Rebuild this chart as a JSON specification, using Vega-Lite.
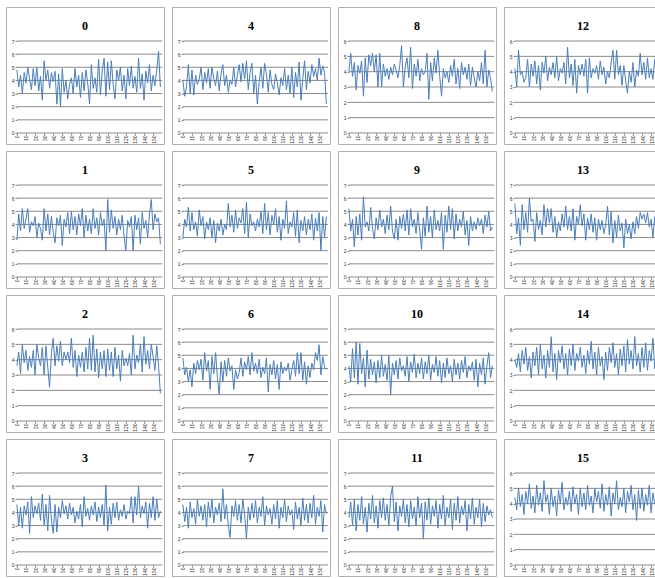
{"$schema":"https://vega.github.io/schema/vega-lite/v6.json","padding":{"left":5,"top":6,"right":0,"bottom":0},"background":"white","columns":4,"spacing":{"row":5,"column":6},
"datasets":{
"g7":[{"v":0},{"v":1},{"v":2},{"v":3},{"v":4},{"v":5},{"v":6},{"v":7}],
"g6":[{"v":0},{"v":1},{"v":2},{"v":3},{"v":4},{"v":5},{"v":6}],
"s0":[{"x":0,"y":4.8},{"x":2,"y":3.5},{"x":4,"y":4.4},{"x":6,"y":3.0},{"x":8,"y":4.6},{"x":10,"y":3.8},{"x":12,"y":5.0},{"x":14,"y":4.1},{"x":16,"y":3.3},{"x":18,"y":4.9},{"x":20,"y":3.6},{"x":22,"y":5.0},{"x":24,"y":3.2},{"x":26,"y":4.3},{"x":28,"y":2.5},{"x":30,"y":5.5},{"x":32,"y":4.0},{"x":34,"y":4.8},{"x":36,"y":3.4},{"x":38,"y":4.6},{"x":40,"y":3.9},{"x":42,"y":4.7},{"x":44,"y":2.2},{"x":46,"y":4.5},{"x":48,"y":2.0},{"x":50,"y":4.9},{"x":52,"y":3.1},{"x":54,"y":4.0},{"x":56,"y":2.6},{"x":58,"y":3.7},{"x":60,"y":4.2},{"x":62,"y":3.0},{"x":64,"y":4.9},{"x":66,"y":3.5},{"x":68,"y":4.4},{"x":70,"y":2.7},{"x":72,"y":4.6},{"x":74,"y":3.2},{"x":76,"y":4.8},{"x":78,"y":3.8},{"x":80,"y":2.2},{"x":82,"y":5.2},{"x":84,"y":3.4},{"x":86,"y":4.2},{"x":88,"y":3.1},{"x":90,"y":5.6},{"x":92,"y":2.9},{"x":94,"y":4.7},{"x":96,"y":5.7},{"x":98,"y":2.8},{"x":100,"y":5.4},{"x":102,"y":3.3},{"x":104,"y":5.5},{"x":106,"y":3.7},{"x":108,"y":2.6},{"x":110,"y":4.8},{"x":112,"y":4.0},{"x":114,"y":5.0},{"x":116,"y":3.2},{"x":118,"y":4.4},{"x":120,"y":2.6},{"x":122,"y":4.9},{"x":124,"y":3.6},{"x":126,"y":5.1},{"x":128,"y":3.4},{"x":130,"y":4.3},{"x":132,"y":3.1},{"x":134,"y":5.7},{"x":136,"y":3.4},{"x":138,"y":4.5},{"x":140,"y":2.5},{"x":142,"y":4.7},{"x":144,"y":3.8},{"x":146,"y":5.2},{"x":148,"y":3.2},{"x":150,"y":4.4},{"x":152,"y":3.6},{"x":154,"y":4.8},{"x":156,"y":6.2},{"x":158,"y":3.5}],
"s4":[{"x":0,"y":4.0},{"x":2,"y":2.8},{"x":4,"y":3.5},{"x":6,"y":5.2},{"x":8,"y":3.0},{"x":10,"y":4.8},{"x":12,"y":2.9},{"x":14,"y":4.4},{"x":16,"y":3.7},{"x":18,"y":4.1},{"x":20,"y":5.0},{"x":22,"y":3.3},{"x":24,"y":4.6},{"x":26,"y":3.8},{"x":28,"y":4.9},{"x":30,"y":3.4},{"x":32,"y":5.0},{"x":34,"y":4.1},{"x":36,"y":3.6},{"x":38,"y":4.7},{"x":40,"y":3.2},{"x":42,"y":4.5},{"x":44,"y":5.2},{"x":46,"y":3.6},{"x":48,"y":4.4},{"x":50,"y":3.1},{"x":52,"y":4.0},{"x":54,"y":3.7},{"x":56,"y":5.0},{"x":58,"y":3.5},{"x":60,"y":4.4},{"x":62,"y":5.2},{"x":64,"y":3.9},{"x":66,"y":5.3},{"x":68,"y":4.1},{"x":70,"y":5.5},{"x":72,"y":3.3},{"x":74,"y":4.6},{"x":76,"y":5.3},{"x":78,"y":3.0},{"x":80,"y":4.4},{"x":82,"y":2.2},{"x":84,"y":3.9},{"x":86,"y":5.0},{"x":88,"y":3.4},{"x":90,"y":5.3},{"x":92,"y":4.5},{"x":94,"y":3.1},{"x":96,"y":4.8},{"x":98,"y":3.7},{"x":100,"y":3.3},{"x":102,"y":4.5},{"x":104,"y":3.8},{"x":106,"y":2.9},{"x":108,"y":4.2},{"x":110,"y":3.6},{"x":112,"y":4.9},{"x":114,"y":3.3},{"x":116,"y":4.4},{"x":118,"y":3.0},{"x":120,"y":5.0},{"x":122,"y":2.7},{"x":124,"y":4.6},{"x":126,"y":3.5},{"x":128,"y":5.4},{"x":130,"y":2.5},{"x":132,"y":4.1},{"x":134,"y":5.5},{"x":136,"y":3.3},{"x":138,"y":4.7},{"x":140,"y":3.8},{"x":142,"y":5.2},{"x":144,"y":4.3},{"x":146,"y":4.9},{"x":148,"y":4.0},{"x":150,"y":5.7},{"x":152,"y":4.4},{"x":154,"y":5.1},{"x":156,"y":4.6},{"x":158,"y":2.2}],
"s8":[{"x":0,"y":4.0},{"x":2,"y":5.2},{"x":4,"y":3.7},{"x":6,"y":4.6},{"x":8,"y":2.8},{"x":10,"y":4.4},{"x":12,"y":3.9},{"x":14,"y":4.7},{"x":16,"y":2.4},{"x":18,"y":4.9},{"x":20,"y":3.3},{"x":22,"y":5.1},{"x":24,"y":4.4},{"x":26,"y":5.2},{"x":28,"y":4.0},{"x":30,"y":5.1},{"x":32,"y":3.0},{"x":34,"y":5.2},{"x":36,"y":3.0},{"x":38,"y":4.5},{"x":40,"y":3.7},{"x":42,"y":4.2},{"x":44,"y":3.5},{"x":46,"y":4.3},{"x":48,"y":3.8},{"x":50,"y":4.5},{"x":52,"y":4.1},{"x":54,"y":3.6},{"x":56,"y":4.4},{"x":58,"y":5.7},{"x":60,"y":3.0},{"x":62,"y":4.3},{"x":64,"y":4.9},{"x":66,"y":3.6},{"x":68,"y":5.6},{"x":70,"y":2.9},{"x":72,"y":4.5},{"x":74,"y":3.7},{"x":76,"y":4.8},{"x":78,"y":3.4},{"x":80,"y":4.2},{"x":82,"y":3.8},{"x":84,"y":4.0},{"x":86,"y":5.2},{"x":88,"y":2.2},{"x":90,"y":4.6},{"x":92,"y":3.4},{"x":94,"y":4.9},{"x":96,"y":3.9},{"x":98,"y":5.4},{"x":100,"y":3.7},{"x":102,"y":2.4},{"x":104,"y":4.2},{"x":106,"y":3.6},{"x":108,"y":4.0},{"x":110,"y":3.3},{"x":112,"y":4.4},{"x":114,"y":3.7},{"x":116,"y":4.8},{"x":118,"y":3.2},{"x":120,"y":4.2},{"x":122,"y":2.9},{"x":124,"y":4.6},{"x":126,"y":3.8},{"x":128,"y":4.3},{"x":130,"y":3.5},{"x":132,"y":4.5},{"x":134,"y":3.1},{"x":136,"y":4.3},{"x":138,"y":3.6},{"x":140,"y":3.0},{"x":142,"y":4.0},{"x":144,"y":3.4},{"x":146,"y":4.6},{"x":148,"y":3.2},{"x":150,"y":5.4},{"x":152,"y":3.0},{"x":154,"y":4.1},{"x":156,"y":3.6},{"x":158,"y":2.7}],
"s12":[{"x":0,"y":4.2},{"x":2,"y":3.0},{"x":4,"y":5.4},{"x":6,"y":3.8},{"x":8,"y":4.0},{"x":10,"y":3.3},{"x":12,"y":3.6},{"x":14,"y":4.8},{"x":16,"y":3.0},{"x":18,"y":4.5},{"x":20,"y":3.7},{"x":22,"y":4.7},{"x":24,"y":3.2},{"x":26,"y":4.4},{"x":28,"y":2.8},{"x":30,"y":4.6},{"x":32,"y":3.9},{"x":34,"y":5.0},{"x":36,"y":3.4},{"x":38,"y":4.3},{"x":40,"y":3.8},{"x":42,"y":4.6},{"x":44,"y":3.6},{"x":46,"y":5.0},{"x":48,"y":3.4},{"x":50,"y":4.2},{"x":52,"y":3.9},{"x":54,"y":4.6},{"x":56,"y":3.2},{"x":58,"y":5.6},{"x":60,"y":3.6},{"x":62,"y":4.5},{"x":64,"y":3.1},{"x":66,"y":4.8},{"x":68,"y":2.6},{"x":70,"y":4.4},{"x":72,"y":3.8},{"x":74,"y":4.5},{"x":76,"y":3.7},{"x":78,"y":4.8},{"x":80,"y":2.6},{"x":82,"y":4.9},{"x":84,"y":3.6},{"x":86,"y":4.2},{"x":88,"y":3.9},{"x":90,"y":4.4},{"x":92,"y":3.5},{"x":94,"y":4.7},{"x":96,"y":3.8},{"x":98,"y":4.3},{"x":100,"y":3.2},{"x":102,"y":4.0},{"x":104,"y":3.6},{"x":106,"y":4.6},{"x":108,"y":5.4},{"x":110,"y":3.5},{"x":112,"y":5.4},{"x":114,"y":3.8},{"x":116,"y":4.4},{"x":118,"y":3.1},{"x":120,"y":4.4},{"x":122,"y":3.4},{"x":124,"y":2.6},{"x":126,"y":4.0},{"x":128,"y":3.3},{"x":130,"y":4.6},{"x":132,"y":3.0},{"x":134,"y":4.1},{"x":136,"y":3.7},{"x":138,"y":5.2},{"x":140,"y":3.8},{"x":142,"y":4.6},{"x":144,"y":3.5},{"x":146,"y":4.9},{"x":148,"y":3.6},{"x":150,"y":4.2},{"x":152,"y":3.5},{"x":154,"y":4.8},{"x":156,"y":3.6},{"x":158,"y":4.3}],
"s1":[{"x":0,"y":2.8},{"x":2,"y":4.8},{"x":4,"y":3.5},{"x":6,"y":5.2},{"x":8,"y":3.7},{"x":10,"y":4.4},{"x":12,"y":5.2},{"x":14,"y":3.4},{"x":16,"y":4.2},{"x":18,"y":3.9},{"x":20,"y":4.6},{"x":22,"y":3.0},{"x":24,"y":4.1},{"x":26,"y":3.7},{"x":28,"y":2.8},{"x":30,"y":5.2},{"x":32,"y":3.5},{"x":34,"y":4.8},{"x":36,"y":3.2},{"x":38,"y":4.6},{"x":40,"y":3.4},{"x":42,"y":2.6},{"x":44,"y":4.5},{"x":46,"y":3.9},{"x":48,"y":4.7},{"x":50,"y":2.4},{"x":52,"y":4.4},{"x":54,"y":3.8},{"x":56,"y":4.9},{"x":58,"y":3.3},{"x":60,"y":5.0},{"x":62,"y":3.6},{"x":64,"y":4.6},{"x":66,"y":3.2},{"x":68,"y":4.8},{"x":70,"y":3.9},{"x":72,"y":5.2},{"x":74,"y":3.0},{"x":76,"y":4.7},{"x":78,"y":3.5},{"x":80,"y":4.4},{"x":82,"y":3.3},{"x":84,"y":5.2},{"x":86,"y":3.7},{"x":88,"y":4.5},{"x":90,"y":3.2},{"x":92,"y":4.9},{"x":94,"y":3.9},{"x":96,"y":4.4},{"x":98,"y":2.0},{"x":100,"y":5.9},{"x":102,"y":3.4},{"x":104,"y":5.1},{"x":106,"y":3.7},{"x":108,"y":4.6},{"x":110,"y":3.2},{"x":112,"y":4.4},{"x":114,"y":3.6},{"x":116,"y":4.7},{"x":118,"y":3.1},{"x":120,"y":2.0},{"x":122,"y":4.3},{"x":124,"y":3.8},{"x":126,"y":4.6},{"x":128,"y":2.0},{"x":130,"y":4.7},{"x":132,"y":3.6},{"x":134,"y":4.5},{"x":136,"y":2.5},{"x":138,"y":4.9},{"x":140,"y":3.7},{"x":142,"y":4.3},{"x":144,"y":3.0},{"x":146,"y":4.8},{"x":148,"y":5.9},{"x":150,"y":3.6},{"x":152,"y":4.8},{"x":154,"y":4.2},{"x":156,"y":4.5},{"x":158,"y":2.5}],
"s5":[{"x":0,"y":3.0},{"x":2,"y":4.4},{"x":4,"y":3.8},{"x":6,"y":5.3},{"x":8,"y":3.5},{"x":10,"y":4.9},{"x":12,"y":3.6},{"x":14,"y":4.2},{"x":16,"y":3.1},{"x":18,"y":5.1},{"x":20,"y":3.9},{"x":22,"y":4.6},{"x":24,"y":2.9},{"x":26,"y":4.2},{"x":28,"y":3.6},{"x":30,"y":4.5},{"x":32,"y":3.0},{"x":34,"y":4.3},{"x":36,"y":2.6},{"x":38,"y":4.1},{"x":40,"y":3.5},{"x":42,"y":4.4},{"x":44,"y":3.2},{"x":46,"y":4.0},{"x":48,"y":3.6},{"x":50,"y":5.6},{"x":52,"y":3.8},{"x":54,"y":4.7},{"x":56,"y":3.4},{"x":58,"y":5.1},{"x":60,"y":3.7},{"x":62,"y":4.5},{"x":64,"y":4.1},{"x":66,"y":5.2},{"x":68,"y":3.3},{"x":70,"y":5.7},{"x":72,"y":3.0},{"x":74,"y":4.8},{"x":76,"y":3.9},{"x":78,"y":4.2},{"x":80,"y":3.5},{"x":82,"y":4.4},{"x":84,"y":3.8},{"x":86,"y":5.0},{"x":88,"y":3.3},{"x":90,"y":5.6},{"x":92,"y":3.6},{"x":94,"y":4.9},{"x":96,"y":3.2},{"x":98,"y":4.7},{"x":100,"y":4.0},{"x":102,"y":5.2},{"x":104,"y":3.4},{"x":106,"y":4.6},{"x":108,"y":2.8},{"x":110,"y":4.4},{"x":112,"y":3.7},{"x":114,"y":5.8},{"x":116,"y":3.3},{"x":118,"y":4.2},{"x":120,"y":3.8},{"x":122,"y":4.9},{"x":124,"y":3.1},{"x":126,"y":5.1},{"x":128,"y":2.6},{"x":130,"y":4.3},{"x":132,"y":3.5},{"x":134,"y":4.6},{"x":136,"y":3.2},{"x":138,"y":4.4},{"x":140,"y":3.6},{"x":142,"y":4.8},{"x":144,"y":2.8},{"x":146,"y":4.5},{"x":148,"y":3.5},{"x":150,"y":4.9},{"x":152,"y":2.0},{"x":154,"y":4.6},{"x":156,"y":3.0},{"x":158,"y":4.6}],
"s9":[{"x":0,"y":5.2},{"x":2,"y":3.5},{"x":4,"y":4.4},{"x":6,"y":2.3},{"x":8,"y":4.6},{"x":10,"y":3.2},{"x":12,"y":4.8},{"x":14,"y":2.8},{"x":16,"y":6.1},{"x":18,"y":3.8},{"x":20,"y":4.2},{"x":22,"y":3.5},{"x":24,"y":5.3},{"x":26,"y":3.7},{"x":28,"y":2.9},{"x":30,"y":4.5},{"x":32,"y":3.6},{"x":34,"y":5.1},{"x":36,"y":3.8},{"x":38,"y":4.4},{"x":40,"y":3.3},{"x":42,"y":4.7},{"x":44,"y":3.6},{"x":46,"y":5.4},{"x":48,"y":3.5},{"x":50,"y":2.9},{"x":52,"y":4.4},{"x":54,"y":2.8},{"x":56,"y":4.6},{"x":58,"y":3.7},{"x":60,"y":4.8},{"x":62,"y":3.5},{"x":64,"y":5.1},{"x":66,"y":3.2},{"x":68,"y":5.2},{"x":70,"y":3.8},{"x":72,"y":4.4},{"x":74,"y":3.3},{"x":76,"y":4.9},{"x":78,"y":3.5},{"x":80,"y":2.1},{"x":82,"y":4.5},{"x":84,"y":3.1},{"x":86,"y":5.4},{"x":88,"y":3.4},{"x":90,"y":4.6},{"x":92,"y":3.0},{"x":94,"y":5.1},{"x":96,"y":3.6},{"x":98,"y":4.3},{"x":100,"y":3.5},{"x":102,"y":4.9},{"x":104,"y":2.1},{"x":106,"y":4.7},{"x":108,"y":3.4},{"x":110,"y":5.4},{"x":112,"y":3.6},{"x":114,"y":5.2},{"x":116,"y":2.9},{"x":118,"y":4.8},{"x":120,"y":3.5},{"x":122,"y":4.4},{"x":124,"y":3.8},{"x":126,"y":5.0},{"x":128,"y":3.2},{"x":130,"y":4.3},{"x":132,"y":2.4},{"x":134,"y":4.6},{"x":136,"y":3.5},{"x":138,"y":4.2},{"x":140,"y":3.6},{"x":142,"y":4.5},{"x":144,"y":3.9},{"x":146,"y":4.4},{"x":148,"y":3.3},{"x":150,"y":4.7},{"x":152,"y":3.8},{"x":154,"y":5.0},{"x":156,"y":3.5},{"x":158,"y":3.8}],
"s13":[{"x":0,"y":5.6},{"x":2,"y":3.3},{"x":4,"y":4.5},{"x":6,"y":2.4},{"x":8,"y":5.5},{"x":10,"y":3.6},{"x":12,"y":4.9},{"x":14,"y":3.4},{"x":16,"y":6.0},{"x":18,"y":4.2},{"x":20,"y":4.4},{"x":22,"y":2.7},{"x":24,"y":4.9},{"x":26,"y":3.6},{"x":28,"y":4.3},{"x":30,"y":3.2},{"x":32,"y":5.5},{"x":34,"y":3.8},{"x":36,"y":5.2},{"x":38,"y":4.1},{"x":40,"y":5.2},{"x":42,"y":3.4},{"x":44,"y":4.6},{"x":46,"y":3.0},{"x":48,"y":4.2},{"x":50,"y":3.5},{"x":52,"y":4.8},{"x":54,"y":3.8},{"x":56,"y":5.4},{"x":58,"y":3.6},{"x":60,"y":4.6},{"x":62,"y":3.5},{"x":64,"y":5.2},{"x":66,"y":2.8},{"x":68,"y":4.6},{"x":70,"y":4.0},{"x":72,"y":5.5},{"x":74,"y":3.9},{"x":76,"y":4.8},{"x":78,"y":2.8},{"x":80,"y":4.5},{"x":82,"y":3.6},{"x":84,"y":4.8},{"x":86,"y":3.4},{"x":88,"y":4.5},{"x":90,"y":2.8},{"x":92,"y":4.4},{"x":94,"y":3.6},{"x":96,"y":4.3},{"x":98,"y":3.3},{"x":100,"y":4.0},{"x":102,"y":5.4},{"x":104,"y":3.2},{"x":106,"y":5.0},{"x":108,"y":2.6},{"x":110,"y":4.3},{"x":112,"y":3.0},{"x":114,"y":4.7},{"x":116,"y":3.5},{"x":118,"y":4.1},{"x":120,"y":2.2},{"x":122,"y":4.4},{"x":124,"y":3.3},{"x":126,"y":4.0},{"x":128,"y":2.9},{"x":130,"y":4.2},{"x":132,"y":3.3},{"x":134,"y":4.6},{"x":136,"y":3.7},{"x":138,"y":4.9},{"x":140,"y":4.4},{"x":142,"y":4.8},{"x":144,"y":4.1},{"x":146,"y":4.9},{"x":148,"y":3.8},{"x":150,"y":4.4},{"x":152,"y":3.0},{"x":154,"y":4.6},{"x":156,"y":2.8},{"x":158,"y":4.0}],
"s2":[{"x":0,"y":3.6},{"x":2,"y":4.5},{"x":4,"y":3.1},{"x":6,"y":5.0},{"x":8,"y":3.8},{"x":10,"y":4.6},{"x":12,"y":3.3},{"x":14,"y":4.2},{"x":16,"y":3.5},{"x":18,"y":4.6},{"x":20,"y":3.0},{"x":22,"y":5.0},{"x":24,"y":4.1},{"x":26,"y":3.6},{"x":28,"y":4.8},{"x":30,"y":3.0},{"x":32,"y":4.9},{"x":34,"y":3.5},{"x":36,"y":2.2},{"x":38,"y":4.4},{"x":40,"y":5.4},{"x":42,"y":3.6},{"x":44,"y":4.9},{"x":46,"y":3.9},{"x":48,"y":5.2},{"x":50,"y":3.6},{"x":52,"y":4.5},{"x":54,"y":4.0},{"x":56,"y":4.5},{"x":58,"y":3.8},{"x":60,"y":5.4},{"x":62,"y":3.5},{"x":64,"y":4.6},{"x":66,"y":2.9},{"x":68,"y":4.3},{"x":70,"y":3.5},{"x":72,"y":4.5},{"x":74,"y":3.2},{"x":76,"y":4.8},{"x":78,"y":3.4},{"x":80,"y":5.4},{"x":82,"y":3.3},{"x":84,"y":5.6},{"x":86,"y":3.2},{"x":88,"y":4.7},{"x":90,"y":2.8},{"x":92,"y":4.5},{"x":94,"y":3.4},{"x":96,"y":4.6},{"x":98,"y":2.9},{"x":100,"y":4.7},{"x":102,"y":3.3},{"x":104,"y":4.5},{"x":106,"y":2.9},{"x":108,"y":4.8},{"x":110,"y":3.4},{"x":112,"y":4.3},{"x":114,"y":2.6},{"x":116,"y":4.6},{"x":118,"y":3.6},{"x":120,"y":4.1},{"x":122,"y":3.6},{"x":124,"y":4.4},{"x":126,"y":3.0},{"x":128,"y":5.6},{"x":130,"y":3.4},{"x":132,"y":4.3},{"x":134,"y":3.8},{"x":136,"y":5.0},{"x":138,"y":3.2},{"x":140,"y":5.5},{"x":142,"y":3.7},{"x":144,"y":4.6},{"x":146,"y":3.4},{"x":148,"y":5.0},{"x":150,"y":4.2},{"x":152,"y":3.3},{"x":154,"y":4.9},{"x":156,"y":3.6},{"x":158,"y":1.8}],
"s6":[{"x":0,"y":4.8},{"x":2,"y":3.5},{"x":4,"y":4.1},{"x":6,"y":3.0},{"x":8,"y":3.9},{"x":10,"y":2.6},{"x":12,"y":4.4},{"x":14,"y":3.6},{"x":16,"y":4.6},{"x":18,"y":3.9},{"x":20,"y":4.7},{"x":22,"y":3.1},{"x":24,"y":5.2},{"x":26,"y":3.8},{"x":28,"y":4.6},{"x":30,"y":2.4},{"x":32,"y":4.9},{"x":34,"y":3.6},{"x":36,"y":5.2},{"x":38,"y":3.3},{"x":40,"y":2.0},{"x":42,"y":4.5},{"x":44,"y":3.0},{"x":46,"y":4.6},{"x":48,"y":3.4},{"x":50,"y":4.8},{"x":52,"y":3.8},{"x":54,"y":4.2},{"x":56,"y":2.4},{"x":58,"y":3.9},{"x":60,"y":3.2},{"x":62,"y":3.7},{"x":64,"y":4.8},{"x":66,"y":3.4},{"x":68,"y":4.5},{"x":70,"y":3.9},{"x":72,"y":4.9},{"x":74,"y":3.5},{"x":76,"y":5.2},{"x":78,"y":3.8},{"x":80,"y":4.4},{"x":82,"y":3.6},{"x":84,"y":4.7},{"x":86,"y":3.3},{"x":88,"y":4.1},{"x":90,"y":3.6},{"x":92,"y":4.8},{"x":94,"y":2.2},{"x":96,"y":4.3},{"x":98,"y":3.5},{"x":100,"y":4.6},{"x":102,"y":3.2},{"x":104,"y":4.3},{"x":106,"y":2.4},{"x":108,"y":4.5},{"x":110,"y":3.6},{"x":112,"y":4.1},{"x":114,"y":3.8},{"x":116,"y":4.4},{"x":118,"y":3.1},{"x":120,"y":3.9},{"x":122,"y":4.6},{"x":124,"y":3.4},{"x":126,"y":5.2},{"x":128,"y":3.6},{"x":130,"y":5.2},{"x":132,"y":3.1},{"x":134,"y":4.5},{"x":136,"y":2.8},{"x":138,"y":4.2},{"x":140,"y":3.3},{"x":142,"y":4.4},{"x":144,"y":3.9},{"x":146,"y":5.2},{"x":148,"y":4.6},{"x":150,"y":5.8},{"x":152,"y":3.5},{"x":154,"y":4.9},{"x":156,"y":4.1},{"x":158,"y":3.9}],
"s10":[{"x":0,"y":4.2},{"x":2,"y":3.0},{"x":4,"y":5.5},{"x":6,"y":3.3},{"x":8,"y":6.0},{"x":10,"y":2.8},{"x":12,"y":5.9},{"x":14,"y":3.6},{"x":16,"y":4.8},{"x":18,"y":2.6},{"x":20,"y":5.4},{"x":22,"y":3.2},{"x":24,"y":4.7},{"x":26,"y":3.5},{"x":28,"y":4.5},{"x":30,"y":2.9},{"x":32,"y":4.6},{"x":34,"y":3.3},{"x":36,"y":5.0},{"x":38,"y":3.4},{"x":40,"y":4.3},{"x":42,"y":3.1},{"x":44,"y":5.0},{"x":46,"y":2.0},{"x":48,"y":4.4},{"x":50,"y":3.5},{"x":52,"y":4.6},{"x":54,"y":3.2},{"x":56,"y":4.8},{"x":58,"y":3.8},{"x":60,"y":4.2},{"x":62,"y":3.4},{"x":64,"y":4.9},{"x":66,"y":3.0},{"x":68,"y":4.5},{"x":70,"y":3.7},{"x":72,"y":5.1},{"x":74,"y":3.3},{"x":76,"y":4.4},{"x":78,"y":3.6},{"x":80,"y":4.8},{"x":82,"y":3.2},{"x":84,"y":4.5},{"x":86,"y":3.6},{"x":88,"y":5.0},{"x":90,"y":3.1},{"x":92,"y":4.3},{"x":94,"y":3.7},{"x":96,"y":4.9},{"x":98,"y":3.4},{"x":100,"y":4.6},{"x":102,"y":2.9},{"x":104,"y":4.4},{"x":106,"y":3.3},{"x":108,"y":4.8},{"x":110,"y":3.6},{"x":112,"y":4.2},{"x":114,"y":3.0},{"x":116,"y":4.7},{"x":118,"y":3.5},{"x":120,"y":4.4},{"x":122,"y":3.2},{"x":124,"y":4.6},{"x":126,"y":3.7},{"x":128,"y":4.9},{"x":130,"y":3.3},{"x":132,"y":4.2},{"x":134,"y":3.8},{"x":136,"y":4.5},{"x":138,"y":3.1},{"x":140,"y":4.7},{"x":142,"y":2.6},{"x":144,"y":4.4},{"x":146,"y":3.5},{"x":148,"y":4.8},{"x":150,"y":2.8},{"x":152,"y":4.2},{"x":154,"y":5.2},{"x":156,"y":3.3},{"x":158,"y":4.2}],
"s14":[{"x":0,"y":4.0},{"x":2,"y":3.5},{"x":4,"y":4.4},{"x":6,"y":3.2},{"x":8,"y":4.6},{"x":10,"y":3.7},{"x":12,"y":4.8},{"x":14,"y":3.3},{"x":16,"y":4.2},{"x":18,"y":2.8},{"x":20,"y":4.5},{"x":22,"y":3.6},{"x":24,"y":4.8},{"x":26,"y":3.0},{"x":28,"y":5.0},{"x":30,"y":3.4},{"x":32,"y":4.3},{"x":34,"y":2.8},{"x":36,"y":4.6},{"x":38,"y":3.5},{"x":40,"y":5.5},{"x":42,"y":3.2},{"x":44,"y":4.4},{"x":46,"y":2.7},{"x":48,"y":4.6},{"x":50,"y":3.8},{"x":52,"y":4.9},{"x":54,"y":3.4},{"x":56,"y":4.4},{"x":58,"y":3.0},{"x":60,"y":4.7},{"x":62,"y":3.6},{"x":64,"y":5.0},{"x":66,"y":3.3},{"x":68,"y":4.4},{"x":70,"y":3.9},{"x":72,"y":4.8},{"x":74,"y":3.5},{"x":76,"y":4.3},{"x":78,"y":3.1},{"x":80,"y":4.6},{"x":82,"y":3.7},{"x":84,"y":5.2},{"x":86,"y":3.4},{"x":88,"y":4.5},{"x":90,"y":3.0},{"x":92,"y":4.8},{"x":94,"y":3.6},{"x":96,"y":4.2},{"x":98,"y":2.7},{"x":100,"y":4.5},{"x":102,"y":3.3},{"x":104,"y":4.8},{"x":106,"y":3.8},{"x":108,"y":5.1},{"x":110,"y":3.5},{"x":112,"y":4.4},{"x":114,"y":3.0},{"x":116,"y":4.7},{"x":118,"y":3.6},{"x":120,"y":4.9},{"x":122,"y":3.2},{"x":124,"y":5.3},{"x":126,"y":3.7},{"x":128,"y":4.6},{"x":130,"y":3.4},{"x":132,"y":5.5},{"x":134,"y":3.6},{"x":136,"y":4.4},{"x":138,"y":3.2},{"x":140,"y":4.8},{"x":142,"y":3.5},{"x":144,"y":5.1},{"x":146,"y":3.3},{"x":148,"y":4.6},{"x":150,"y":3.9},{"x":152,"y":5.4},{"x":154,"y":3.4},{"x":156,"y":4.2},{"x":158,"y":3.8}],
"s3":[{"x":0,"y":4.6},{"x":2,"y":3.0},{"x":4,"y":4.4},{"x":6,"y":2.8},{"x":8,"y":4.5},{"x":10,"y":3.8},{"x":12,"y":4.8},{"x":14,"y":2.4},{"x":16,"y":5.2},{"x":18,"y":3.6},{"x":20,"y":4.5},{"x":22,"y":3.9},{"x":24,"y":4.7},{"x":26,"y":3.4},{"x":28,"y":5.4},{"x":30,"y":3.0},{"x":32,"y":4.6},{"x":34,"y":2.6},{"x":36,"y":5.3},{"x":38,"y":3.5},{"x":40,"y":2.4},{"x":42,"y":4.6},{"x":44,"y":2.5},{"x":46,"y":4.4},{"x":48,"y":3.6},{"x":50,"y":4.9},{"x":52,"y":3.9},{"x":54,"y":4.5},{"x":56,"y":3.5},{"x":58,"y":4.7},{"x":60,"y":3.8},{"x":62,"y":4.4},{"x":64,"y":3.2},{"x":66,"y":4.1},{"x":68,"y":3.5},{"x":70,"y":4.6},{"x":72,"y":2.9},{"x":74,"y":5.2},{"x":76,"y":3.7},{"x":78,"y":4.3},{"x":80,"y":3.4},{"x":82,"y":4.5},{"x":84,"y":3.8},{"x":86,"y":4.8},{"x":88,"y":3.3},{"x":90,"y":4.4},{"x":92,"y":3.6},{"x":94,"y":4.6},{"x":96,"y":3.0},{"x":98,"y":6.1},{"x":100,"y":2.6},{"x":102,"y":4.4},{"x":104,"y":3.1},{"x":106,"y":4.7},{"x":108,"y":3.6},{"x":110,"y":4.8},{"x":112,"y":3.4},{"x":114,"y":4.2},{"x":116,"y":3.7},{"x":118,"y":4.6},{"x":120,"y":3.5},{"x":122,"y":4.1},{"x":124,"y":3.9},{"x":126,"y":5.2},{"x":128,"y":3.2},{"x":130,"y":5.2},{"x":132,"y":3.8},{"x":134,"y":6.0},{"x":136,"y":3.6},{"x":138,"y":4.5},{"x":140,"y":3.9},{"x":142,"y":4.8},{"x":144,"y":2.8},{"x":146,"y":4.7},{"x":148,"y":3.6},{"x":150,"y":5.2},{"x":152,"y":3.4},{"x":154,"y":5.0},{"x":156,"y":3.6},{"x":158,"y":4.1}],
"s7":[{"x":0,"y":4.6},{"x":2,"y":3.3},{"x":4,"y":4.4},{"x":6,"y":2.8},{"x":8,"y":4.8},{"x":10,"y":3.6},{"x":12,"y":4.3},{"x":14,"y":3.1},{"x":16,"y":5.0},{"x":18,"y":3.7},{"x":20,"y":4.5},{"x":22,"y":3.4},{"x":24,"y":4.6},{"x":26,"y":2.9},{"x":28,"y":4.8},{"x":30,"y":3.6},{"x":32,"y":5.0},{"x":34,"y":3.2},{"x":36,"y":4.4},{"x":38,"y":3.8},{"x":40,"y":4.7},{"x":42,"y":3.3},{"x":44,"y":5.8},{"x":46,"y":3.5},{"x":48,"y":4.6},{"x":50,"y":3.0},{"x":52,"y":2.1},{"x":54,"y":4.5},{"x":56,"y":3.7},{"x":58,"y":4.9},{"x":60,"y":3.4},{"x":62,"y":4.6},{"x":64,"y":3.2},{"x":66,"y":5.0},{"x":68,"y":3.8},{"x":70,"y":2.0},{"x":72,"y":4.4},{"x":74,"y":3.4},{"x":76,"y":4.7},{"x":78,"y":3.6},{"x":80,"y":4.9},{"x":82,"y":3.2},{"x":84,"y":4.4},{"x":86,"y":3.7},{"x":88,"y":5.2},{"x":90,"y":3.0},{"x":92,"y":4.5},{"x":94,"y":3.8},{"x":96,"y":4.3},{"x":98,"y":3.1},{"x":100,"y":4.6},{"x":102,"y":3.5},{"x":104,"y":4.9},{"x":106,"y":2.8},{"x":108,"y":4.4},{"x":110,"y":3.6},{"x":112,"y":5.0},{"x":114,"y":3.3},{"x":116,"y":4.5},{"x":118,"y":3.8},{"x":120,"y":4.2},{"x":122,"y":2.7},{"x":124,"y":4.8},{"x":126,"y":3.5},{"x":128,"y":4.4},{"x":130,"y":3.0},{"x":132,"y":5.1},{"x":134,"y":3.4},{"x":136,"y":4.6},{"x":138,"y":3.2},{"x":140,"y":4.7},{"x":142,"y":3.6},{"x":144,"y":5.3},{"x":146,"y":3.1},{"x":148,"y":4.4},{"x":150,"y":3.7},{"x":152,"y":4.9},{"x":154,"y":2.5},{"x":156,"y":4.6},{"x":158,"y":3.9}],
"s11":[{"x":0,"y":3.6},{"x":2,"y":4.8},{"x":4,"y":3.0},{"x":6,"y":5.0},{"x":8,"y":2.6},{"x":10,"y":4.6},{"x":12,"y":3.4},{"x":14,"y":5.2},{"x":16,"y":3.1},{"x":18,"y":4.4},{"x":20,"y":2.5},{"x":22,"y":4.7},{"x":24,"y":3.5},{"x":26,"y":5.3},{"x":28,"y":3.2},{"x":30,"y":4.5},{"x":32,"y":2.8},{"x":34,"y":4.9},{"x":36,"y":3.6},{"x":38,"y":5.1},{"x":40,"y":3.4},{"x":42,"y":4.6},{"x":44,"y":3.0},{"x":46,"y":5.2},{"x":48,"y":6.0},{"x":50,"y":3.3},{"x":52,"y":4.8},{"x":54,"y":2.6},{"x":56,"y":4.5},{"x":58,"y":3.7},{"x":60,"y":5.0},{"x":62,"y":3.2},{"x":64,"y":4.6},{"x":66,"y":2.9},{"x":68,"y":4.9},{"x":70,"y":3.5},{"x":72,"y":4.4},{"x":74,"y":3.0},{"x":76,"y":5.2},{"x":78,"y":3.6},{"x":80,"y":4.7},{"x":82,"y":2.0},{"x":84,"y":4.8},{"x":86,"y":3.4},{"x":88,"y":5.1},{"x":90,"y":3.1},{"x":92,"y":4.5},{"x":94,"y":3.7},{"x":96,"y":4.9},{"x":98,"y":2.8},{"x":100,"y":4.6},{"x":102,"y":3.5},{"x":104,"y":5.3},{"x":106,"y":3.0},{"x":108,"y":4.4},{"x":110,"y":3.6},{"x":112,"y":5.0},{"x":114,"y":2.7},{"x":116,"y":4.7},{"x":118,"y":3.4},{"x":120,"y":5.2},{"x":122,"y":3.2},{"x":124,"y":4.5},{"x":126,"y":3.8},{"x":128,"y":4.9},{"x":130,"y":2.6},{"x":132,"y":4.6},{"x":134,"y":3.5},{"x":136,"y":5.1},{"x":138,"y":3.1},{"x":140,"y":4.4},{"x":142,"y":3.6},{"x":144,"y":5.0},{"x":146,"y":2.9},{"x":148,"y":4.7},{"x":150,"y":3.3},{"x":152,"y":4.5},{"x":154,"y":3.8},{"x":156,"y":4.2},{"x":158,"y":3.6}],
"s15":[{"x":0,"y":4.4},{"x":2,"y":3.6},{"x":4,"y":5.0},{"x":6,"y":3.8},{"x":8,"y":4.6},{"x":10,"y":3.3},{"x":12,"y":4.8},{"x":14,"y":4.0},{"x":16,"y":5.3},{"x":18,"y":3.7},{"x":20,"y":4.5},{"x":22,"y":3.4},{"x":24,"y":5.2},{"x":26,"y":3.9},{"x":28,"y":4.7},{"x":30,"y":3.5},{"x":32,"y":5.5},{"x":34,"y":4.1},{"x":36,"y":4.6},{"x":38,"y":3.3},{"x":40,"y":5.0},{"x":42,"y":3.8},{"x":44,"y":4.5},{"x":46,"y":3.2},{"x":48,"y":4.9},{"x":50,"y":4.0},{"x":52,"y":5.4},{"x":54,"y":3.6},{"x":56,"y":4.4},{"x":58,"y":3.9},{"x":60,"y":4.8},{"x":62,"y":3.5},{"x":64,"y":5.1},{"x":66,"y":4.0},{"x":68,"y":4.6},{"x":70,"y":3.3},{"x":72,"y":5.0},{"x":74,"y":3.8},{"x":76,"y":4.7},{"x":78,"y":3.6},{"x":80,"y":5.2},{"x":82,"y":3.9},{"x":84,"y":4.5},{"x":86,"y":3.4},{"x":88,"y":5.0},{"x":90,"y":4.1},{"x":92,"y":4.8},{"x":94,"y":3.7},{"x":96,"y":5.3},{"x":98,"y":3.5},{"x":100,"y":4.6},{"x":102,"y":3.9},{"x":104,"y":5.1},{"x":106,"y":3.2},{"x":108,"y":4.7},{"x":110,"y":4.0},{"x":112,"y":5.5},{"x":114,"y":3.6},{"x":116,"y":4.4},{"x":118,"y":3.8},{"x":120,"y":5.0},{"x":122,"y":3.4},{"x":124,"y":4.8},{"x":126,"y":4.1},{"x":128,"y":5.2},{"x":130,"y":3.6},{"x":132,"y":4.6},{"x":134,"y":2.9},{"x":136,"y":4.9},{"x":138,"y":3.7},{"x":140,"y":5.0},{"x":142,"y":3.5},{"x":144,"y":4.6},{"x":146,"y":3.9},{"x":148,"y":5.2},{"x":150,"y":3.4},{"x":152,"y":4.7},{"x":154,"y":4.0},{"x":156,"y":4.5},{"x":158,"y":3.9}]
},
"config":{"view":{"stroke":"#b0b0b0","strokeWidth":1},"title":{"font":"Liberation Serif","fontSize":12,"fontWeight":"bold","color":"#000000","offset":-26,"anchor":"middle"},"axis":{"labelFont":"Liberation Sans","labelFontSize":5,"labelColor":"#333333","title":null,"domain":false,"grid":false,"tickColor":"#888888","tickSize":2,"labelPadding":1},"line":{"color":"#4a7ebb","strokeWidth":1},"rule":{"color":"#8a8a8a","strokeWidth":1}},
"concat":[
{"title":"0","width":158,"height":137,"layer":[{"data":{"name":"g7"},"mark":"rule","encoding":{"y":{"field":"v","type":"quantitative","scale":{"domain":[-0.84,9.59],"nice":false,"zero":false},"axis":{"values":[0,1,2,3,4,5,6,7],"tickCount":20,"format":"d","offset":-11,"labelOverlap":false,"labelFlush":false,"labelBound":false}},"x":{"datum":0,"type":"quantitative","scale":{"domain":[-12,162],"nice":false,"zero":false},"axis":{"values":[0,10,20,30,40,50,60,70,80,90,100,110,120,130,140,150],"tickCount":40,"format":"d","labelAngle":-90,"offset":-11,"labelPadding":0,"labelOverlap":false,"labelFlush":false,"labelBound":false}},"x2":{"datum":160}}},{"data":{"name":"s0"},"mark":"line","encoding":{"x":{"field":"x","type":"quantitative"},"y":{"field":"y","type":"quantitative"}}}]},
{"title":"4","width":158,"height":137,"layer":[{"data":{"name":"g7"},"mark":"rule","encoding":{"y":{"field":"v","type":"quantitative","scale":{"domain":[-0.84,9.59],"nice":false,"zero":false},"axis":{"values":[0,1,2,3,4,5,6,7],"tickCount":20,"format":"d","offset":-11,"labelOverlap":false,"labelFlush":false,"labelBound":false}},"x":{"datum":0,"type":"quantitative","scale":{"domain":[-12,162],"nice":false,"zero":false},"axis":{"values":[0,10,20,30,40,50,60,70,80,90,100,110,120,130,140,150],"tickCount":40,"format":"d","labelAngle":-90,"offset":-11,"labelPadding":0,"labelOverlap":false,"labelFlush":false,"labelBound":false}},"x2":{"datum":160}}},{"data":{"name":"s4"},"mark":"line","encoding":{"x":{"field":"x","type":"quantitative"},"y":{"field":"y","type":"quantitative"}}}]},
{"title":"8","width":158,"height":137,"layer":[{"data":{"name":"g6"},"mark":"rule","encoding":{"y":{"field":"v","type":"quantitative","scale":{"domain":[-0.72,8.22],"nice":false,"zero":false},"axis":{"values":[0,1,2,3,4,5,6],"tickCount":20,"format":"d","offset":-11,"labelOverlap":false,"labelFlush":false,"labelBound":false}},"x":{"datum":0,"type":"quantitative","scale":{"domain":[-12,162],"nice":false,"zero":false},"axis":{"values":[0,10,20,30,40,50,60,70,80,90,100,110,120,130,140,150],"tickCount":40,"format":"d","labelAngle":-90,"offset":-11,"labelPadding":0,"labelOverlap":false,"labelFlush":false,"labelBound":false}},"x2":{"datum":160}}},{"data":{"name":"s8"},"mark":"line","encoding":{"x":{"field":"x","type":"quantitative"},"y":{"field":"y","type":"quantitative"}}}]},
{"title":"12","width":158,"height":137,"layer":[{"data":{"name":"g6"},"mark":"rule","encoding":{"y":{"field":"v","type":"quantitative","scale":{"domain":[-0.72,8.22],"nice":false,"zero":false},"axis":{"values":[0,1,2,3,4,5,6],"tickCount":20,"format":"d","offset":-11,"labelOverlap":false,"labelFlush":false,"labelBound":false}},"x":{"datum":0,"type":"quantitative","scale":{"domain":[-12,162],"nice":false,"zero":false},"axis":{"values":[0,10,20,30,40,50,60,70,80,90,100,110,120,130,140,150],"tickCount":40,"format":"d","labelAngle":-90,"offset":-11,"labelPadding":0,"labelOverlap":false,"labelFlush":false,"labelBound":false}},"x2":{"datum":160}}},{"data":{"name":"s12"},"mark":"line","encoding":{"x":{"field":"x","type":"quantitative"},"y":{"field":"y","type":"quantitative"}}}]},
{"title":"1","width":158,"height":137,"layer":[{"data":{"name":"g7"},"mark":"rule","encoding":{"y":{"field":"v","type":"quantitative","scale":{"domain":[-0.84,9.59],"nice":false,"zero":false},"axis":{"values":[0,1,2,3,4,5,6,7],"tickCount":20,"format":"d","offset":-11,"labelOverlap":false,"labelFlush":false,"labelBound":false}},"x":{"datum":0,"type":"quantitative","scale":{"domain":[-12,162],"nice":false,"zero":false},"axis":{"values":[0,10,20,30,40,50,60,70,80,90,100,110,120,130,140,150],"tickCount":40,"format":"d","labelAngle":-90,"offset":-11,"labelPadding":0,"labelOverlap":false,"labelFlush":false,"labelBound":false}},"x2":{"datum":160}}},{"data":{"name":"s1"},"mark":"line","encoding":{"x":{"field":"x","type":"quantitative"},"y":{"field":"y","type":"quantitative"}}}]},
{"title":"5","width":158,"height":137,"layer":[{"data":{"name":"g7"},"mark":"rule","encoding":{"y":{"field":"v","type":"quantitative","scale":{"domain":[-0.84,9.59],"nice":false,"zero":false},"axis":{"values":[0,1,2,3,4,5,6,7],"tickCount":20,"format":"d","offset":-11,"labelOverlap":false,"labelFlush":false,"labelBound":false}},"x":{"datum":0,"type":"quantitative","scale":{"domain":[-12,162],"nice":false,"zero":false},"axis":{"values":[0,10,20,30,40,50,60,70,80,90,100,110,120,130,140,150],"tickCount":40,"format":"d","labelAngle":-90,"offset":-11,"labelPadding":0,"labelOverlap":false,"labelFlush":false,"labelBound":false}},"x2":{"datum":160}}},{"data":{"name":"s5"},"mark":"line","encoding":{"x":{"field":"x","type":"quantitative"},"y":{"field":"y","type":"quantitative"}}}]},
{"title":"9","width":158,"height":137,"layer":[{"data":{"name":"g7"},"mark":"rule","encoding":{"y":{"field":"v","type":"quantitative","scale":{"domain":[-0.84,9.59],"nice":false,"zero":false},"axis":{"values":[0,1,2,3,4,5,6,7],"tickCount":20,"format":"d","offset":-11,"labelOverlap":false,"labelFlush":false,"labelBound":false}},"x":{"datum":0,"type":"quantitative","scale":{"domain":[-12,162],"nice":false,"zero":false},"axis":{"values":[0,10,20,30,40,50,60,70,80,90,100,110,120,130,140,150],"tickCount":40,"format":"d","labelAngle":-90,"offset":-11,"labelPadding":0,"labelOverlap":false,"labelFlush":false,"labelBound":false}},"x2":{"datum":160}}},{"data":{"name":"s9"},"mark":"line","encoding":{"x":{"field":"x","type":"quantitative"},"y":{"field":"y","type":"quantitative"}}}]},
{"title":"13","width":158,"height":137,"layer":[{"data":{"name":"g7"},"mark":"rule","encoding":{"y":{"field":"v","type":"quantitative","scale":{"domain":[-0.84,9.59],"nice":false,"zero":false},"axis":{"values":[0,1,2,3,4,5,6,7],"tickCount":20,"format":"d","offset":-11,"labelOverlap":false,"labelFlush":false,"labelBound":false}},"x":{"datum":0,"type":"quantitative","scale":{"domain":[-12,162],"nice":false,"zero":false},"axis":{"values":[0,10,20,30,40,50,60,70,80,90,100,110,120,130,140,150],"tickCount":40,"format":"d","labelAngle":-90,"offset":-11,"labelPadding":0,"labelOverlap":false,"labelFlush":false,"labelBound":false}},"x2":{"datum":160}}},{"data":{"name":"s13"},"mark":"line","encoding":{"x":{"field":"x","type":"quantitative"},"y":{"field":"y","type":"quantitative"}}}]},
{"title":"2","width":158,"height":137,"layer":[{"data":{"name":"g6"},"mark":"rule","encoding":{"y":{"field":"v","type":"quantitative","scale":{"domain":[-0.72,8.22],"nice":false,"zero":false},"axis":{"values":[0,1,2,3,4,5,6],"tickCount":20,"format":"d","offset":-11,"labelOverlap":false,"labelFlush":false,"labelBound":false}},"x":{"datum":0,"type":"quantitative","scale":{"domain":[-12,162],"nice":false,"zero":false},"axis":{"values":[0,10,20,30,40,50,60,70,80,90,100,110,120,130,140,150],"tickCount":40,"format":"d","labelAngle":-90,"offset":-11,"labelPadding":0,"labelOverlap":false,"labelFlush":false,"labelBound":false}},"x2":{"datum":160}}},{"data":{"name":"s2"},"mark":"line","encoding":{"x":{"field":"x","type":"quantitative"},"y":{"field":"y","type":"quantitative"}}}]},
{"title":"6","width":158,"height":137,"layer":[{"data":{"name":"g7"},"mark":"rule","encoding":{"y":{"field":"v","type":"quantitative","scale":{"domain":[-0.84,9.59],"nice":false,"zero":false},"axis":{"values":[0,1,2,3,4,5,6,7],"tickCount":20,"format":"d","offset":-11,"labelOverlap":false,"labelFlush":false,"labelBound":false}},"x":{"datum":0,"type":"quantitative","scale":{"domain":[-12,162],"nice":false,"zero":false},"axis":{"values":[0,10,20,30,40,50,60,70,80,90,100,110,120,130,140,150],"tickCount":40,"format":"d","labelAngle":-90,"offset":-11,"labelPadding":0,"labelOverlap":false,"labelFlush":false,"labelBound":false}},"x2":{"datum":160}}},{"data":{"name":"s6"},"mark":"line","encoding":{"x":{"field":"x","type":"quantitative"},"y":{"field":"y","type":"quantitative"}}}]},
{"title":"10","width":158,"height":137,"layer":[{"data":{"name":"g7"},"mark":"rule","encoding":{"y":{"field":"v","type":"quantitative","scale":{"domain":[-0.84,9.59],"nice":false,"zero":false},"axis":{"values":[0,1,2,3,4,5,6,7],"tickCount":20,"format":"d","offset":-11,"labelOverlap":false,"labelFlush":false,"labelBound":false}},"x":{"datum":0,"type":"quantitative","scale":{"domain":[-12,162],"nice":false,"zero":false},"axis":{"values":[0,10,20,30,40,50,60,70,80,90,100,110,120,130,140,150],"tickCount":40,"format":"d","labelAngle":-90,"offset":-11,"labelPadding":0,"labelOverlap":false,"labelFlush":false,"labelBound":false}},"x2":{"datum":160}}},{"data":{"name":"s10"},"mark":"line","encoding":{"x":{"field":"x","type":"quantitative"},"y":{"field":"y","type":"quantitative"}}}]},
{"title":"14","width":158,"height":137,"layer":[{"data":{"name":"g6"},"mark":"rule","encoding":{"y":{"field":"v","type":"quantitative","scale":{"domain":[-0.72,8.22],"nice":false,"zero":false},"axis":{"values":[0,1,2,3,4,5,6],"tickCount":20,"format":"d","offset":-11,"labelOverlap":false,"labelFlush":false,"labelBound":false}},"x":{"datum":0,"type":"quantitative","scale":{"domain":[-12,162],"nice":false,"zero":false},"axis":{"values":[0,10,20,30,40,50,60,70,80,90,100,110,120,130,140,150],"tickCount":40,"format":"d","labelAngle":-90,"offset":-11,"labelPadding":0,"labelOverlap":false,"labelFlush":false,"labelBound":false}},"x2":{"datum":160}}},{"data":{"name":"s14"},"mark":"line","encoding":{"x":{"field":"x","type":"quantitative"},"y":{"field":"y","type":"quantitative"}}}]},
{"title":"3","width":158,"height":137,"layer":[{"data":{"name":"g7"},"mark":"rule","encoding":{"y":{"field":"v","type":"quantitative","scale":{"domain":[-0.84,9.59],"nice":false,"zero":false},"axis":{"values":[0,1,2,3,4,5,6,7],"tickCount":20,"format":"d","offset":-11,"labelOverlap":false,"labelFlush":false,"labelBound":false}},"x":{"datum":0,"type":"quantitative","scale":{"domain":[-12,162],"nice":false,"zero":false},"axis":{"values":[0,10,20,30,40,50,60,70,80,90,100,110,120,130,140,150],"tickCount":40,"format":"d","labelAngle":-90,"offset":-11,"labelPadding":0,"labelOverlap":false,"labelFlush":false,"labelBound":false}},"x2":{"datum":160}}},{"data":{"name":"s3"},"mark":"line","encoding":{"x":{"field":"x","type":"quantitative"},"y":{"field":"y","type":"quantitative"}}}]},
{"title":"7","width":158,"height":137,"layer":[{"data":{"name":"g7"},"mark":"rule","encoding":{"y":{"field":"v","type":"quantitative","scale":{"domain":[-0.84,9.59],"nice":false,"zero":false},"axis":{"values":[0,1,2,3,4,5,6,7],"tickCount":20,"format":"d","offset":-11,"labelOverlap":false,"labelFlush":false,"labelBound":false}},"x":{"datum":0,"type":"quantitative","scale":{"domain":[-12,162],"nice":false,"zero":false},"axis":{"values":[0,10,20,30,40,50,60,70,80,90,100,110,120,130,140,150],"tickCount":40,"format":"d","labelAngle":-90,"offset":-11,"labelPadding":0,"labelOverlap":false,"labelFlush":false,"labelBound":false}},"x2":{"datum":160}}},{"data":{"name":"s7"},"mark":"line","encoding":{"x":{"field":"x","type":"quantitative"},"y":{"field":"y","type":"quantitative"}}}]},
{"title":"11","width":158,"height":137,"layer":[{"data":{"name":"g7"},"mark":"rule","encoding":{"y":{"field":"v","type":"quantitative","scale":{"domain":[-0.84,9.59],"nice":false,"zero":false},"axis":{"values":[0,1,2,3,4,5,6,7],"tickCount":20,"format":"d","offset":-11,"labelOverlap":false,"labelFlush":false,"labelBound":false}},"x":{"datum":0,"type":"quantitative","scale":{"domain":[-12,162],"nice":false,"zero":false},"axis":{"values":[0,10,20,30,40,50,60,70,80,90,100,110,120,130,140,150],"tickCount":40,"format":"d","labelAngle":-90,"offset":-11,"labelPadding":0,"labelOverlap":false,"labelFlush":false,"labelBound":false}},"x2":{"datum":160}}},{"data":{"name":"s11"},"mark":"line","encoding":{"x":{"field":"x","type":"quantitative"},"y":{"field":"y","type":"quantitative"}}}]},
{"title":"15","width":158,"height":137,"layer":[{"data":{"name":"g6"},"mark":"rule","encoding":{"y":{"field":"v","type":"quantitative","scale":{"domain":[-0.72,8.22],"nice":false,"zero":false},"axis":{"values":[0,1,2,3,4,5,6],"tickCount":20,"format":"d","offset":-11,"labelOverlap":false,"labelFlush":false,"labelBound":false}},"x":{"datum":0,"type":"quantitative","scale":{"domain":[-12,162],"nice":false,"zero":false},"axis":{"values":[0,10,20,30,40,50,60,70,80,90,100,110,120,130,140,150],"tickCount":40,"format":"d","labelAngle":-90,"offset":-11,"labelPadding":0,"labelOverlap":false,"labelFlush":false,"labelBound":false}},"x2":{"datum":160}}},{"data":{"name":"s15"},"mark":"line","encoding":{"x":{"field":"x","type":"quantitative"},"y":{"field":"y","type":"quantitative"}}}]}
]}
